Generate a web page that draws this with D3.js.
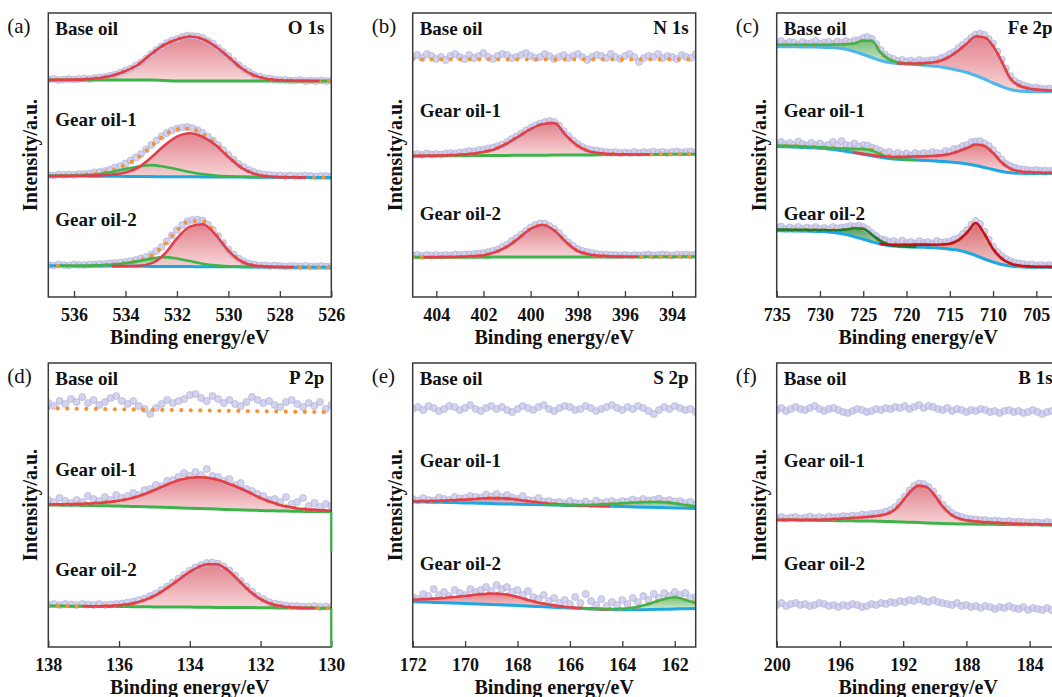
<!DOCTYPE html>
<html>
<head>
<meta charset="utf-8">
<script src="https://cdn.jsdelivr.net/npm/d3@7"></script>
<style>
  body { margin: 0; background: #fff; }
  svg { display: block; }
</style>
</head>
<body>
<svg id="chart" width="1052" height="697"></svg>
<script>
// ---------------- XPS spectra (intensity in a.u., offset per sample) ----------------
// Fit components are sampled on a regular energy grid (start, step); raw scans on a finer grid.

// (a) O 1s : 537 -> 526 eV, fit step 0.5, scan step 0.2
const o1sTicks = [536, 534, 532, 530, 528, 526];
const o1sBaseBg = [217,217,217,217,217,217,217,217,217,216.5,216,216,216,216,216,216,216,216,216,216,216,216,216];
const o1sBaseRed = [0,0.2,0.4,0.9,2,4.5,9,15.5,26,35.5,41.5,44.5,42,34.5,24,13,5.5,2,0.8,0.3,0.1,0,0];
const o1sBaseScan = [217.5,218,217,217.5,218,217.5,218,218.5,218,219,219.5,220,221.5,222.5,224.5,226.5,228.5,231.5,234.5,238.5,243,247,250.5,254,256.5,258,260,261.5,261,260.5,259,256,253.5,249,245,241,236,232,228,225,222,220.5,219,218.5,217.5,217,217,216.5,216.5,217,216,216.5,216,216.5,216,216.5];
const o1sGear1Bg = [121,121,121,120.9,120.8,120.7,120.6,120.5,120.4,120.3,120.3,120.2,120.1,120,120,119.9,119.8,119.7,119.6,119.6,119.5,119.5,119.5];
const o1sGear1Green = [0,0.2,0.5,1.2,2.2,4.5,7.5,10,11.5,10,7.5,4.8,2.8,1.5,0.7,0.3,0.1,0,0,0,0,0,0];
const o1sGear1Red = [0,0.1,0.2,0.4,0.8,1.8,4,9,19,31,40,43.5,40,32,20,9.5,3.5,1,0.3,0.1,0,0,0];
const o1sGear1Scan = [122,121.5,122.5,122,122.5,122,123,123,123.5,124.5,125,126,127.5,129.5,131,133.5,136.5,139.5,143,147.5,152,156.5,160.5,164,166.5,168.5,169.5,170,169,167,164,160.5,156.5,152,147,142,137.5,133,130,127,125,123.5,122.5,122,121.5,121.5,121,121.5,121,121,121.5,121,120.5,121,121,120.5];
const o1sGear2Bg = [31.3,31.2,31.1,31,31,30.9,30.8,30.7,30.6,30.5,30.5,30.4,30.3,30.2,30.2,30.1,30,30,29.9,29.8,29.8,29.7,29.7];
const o1sGear2Green = [0,0,0.1,0.3,0.8,1.5,3,5.2,7.8,9.4,8,5.5,3,1.4,0.5,0.2,0,0,0,0,0,0,0];
const o1sGear2Red = [0,0,0,0,0,0,0.2,0.5,3,12,28,40,42.5,32,16,5.5,1.5,0.4,0.1,0,0,0,0];
const o1sGear2Scan = [32,31.5,32.5,32,31.5,32.5,32,32,32.5,32.5,33,33,33.5,34,34.5,35,36,37,38.5,40,42.5,46,50,55.5,61.5,67,72,75.5,77,77.5,76.5,72.5,67,61,54,47.5,42.5,38.5,35.5,33.5,32.5,31.5,31.5,31,31.5,31,30.5,31,31,30.5,31,30.5,30.5,31,30.5,30.5];

// (b) N 1s : 405 -> 393 eV, fit step 0.5, scan step 0.2
const n1sTicks = [404, 402, 400, 398, 396, 394];
const n1sBaseBg = [237.7,237.7,237.7,237.7,237.7,237.7,237.7,237.7,237.7,237.7,237.7,237.7,237.7,237.7,237.7,237.7,237.7,237.7,237.7,237.7,237.7,237.7,237.7,237.7,237.7];
const n1sBaseScan = [240,242,239,243,241,238,240,237,241,243,240,238,242,239,241,244,240,238,241,243,242,239,240,242,244,241,239,240,243,241,238,240,242,239,241,243,240,237,240,242,241,239,243,240,238,241,243,240,235,239,241,240,243,239,241,240,238,242,240,239,243];
const n1sGear1Bg = [141,141.1,141.2,141.2,141.3,141.4,141.5,141.5,141.6,141.7,141.8,141.8,141.9,142,142.1,142.1,142.2,142.3,142.4,142.4,142.5,142.6,142.7,142.7,142.8];
const n1sGear1Red = [0,0.1,0.2,0.5,1,1.8,3.5,6.5,12,19,26,31,32,19.5,9,3.5,1.5,0.6,0.2,0.1,0,0,0,0,0];
const n1sGear1Scan = [142.5,143,142,143.5,142.5,143,142.5,143.5,144,143.5,144.5,145,146,145.5,147,147.5,148.5,149.5,151,152.5,155,158,160.5,163.5,166.5,169,171.5,173.5,175,176,175,171.5,166,161,156.5,153,150,148,147,146.5,145.5,145,144.5,145,144,144.5,144,145,144,145,144.5,145.5,144.5,145,144,145,145.5,144.5,145,145.5,144.5];
const n1sGear2Bg = [39.7,39.7,39.7,39.8,39.8,39.8,39.8,39.9,39.9,39.9,40,40,40,40,40,40.1,40.1,40.1,40.2,40.2,40.2,40.2,40.3,40.3,40.3];
const n1sGear2Red = [0,0,0.1,0.2,0.4,1,2,5,10.5,19,28,32,26.5,15,6,2.5,1,0.4,0.1,0,0,0,0,0,0];
const n1sGear2Scan = [41.5,42,41,42,41.5,42,41.5,42,41.5,42.5,42,42.5,42.5,43,43.5,44,45,46,47.5,50,52.5,56,59,62.5,66,69.5,72,73.5,73.5,71,68,64,59,54.5,51,48,46,45,44,43,42.5,42.5,42,42,41.5,42,41.5,42,41.5,42,42.5,41.5,42,42.5,42,41.5,42.5,42,42.5,42,42.5];

// (c) Fe 2p : 735 -> 702.3 eV, fit step 1, scan step 0.5
const fe2pTicks = [735, 730, 725, 720, 715, 710, 705];
const fe2pBaseBg = [250.3,250.3,250.2,250.1,250,249.8,249.5,249,247.8,245.5,242.5,239.5,236.5,234.5,233.5,233,232.5,232,231,230,228.5,226.5,224.5,221.5,218,214,210.5,207.5,206,205.5,205.3,205.2,205.2];
const fe2pBaseGreen = [2,2,2,2.1,2.2,2.4,2.8,3.5,5,8,14,16.5,8,3,1.2,0.5,0.2,0,0,0,0,0,0,0,0,0,0,0,0,0,0,0,0];
const fe2pBaseRed = [0,0,0,0,0,0,0,0,0,0,0,0,0,0,0,0.5,1,2,3.5,6.5,12,20,29,39,41.5,37,25,11,5.5,3.2,2.2,1.6,1.2];
const fe2pBaseScan = [254,256,253,255,254.5,252.5,255,253.5,254,256,253,254.5,255,253,255.5,254,256,254.5,256.5,257,259,260,258,253,247,242.5,239.5,238,236,237,235,236.5,235,237,235.5,236.5,237,237,239,240,243,245,249,252,255.5,259.5,262.5,263.5,262,258,253.5,245.5,237.5,228.5,221,216,213.5,211.5,210.5,209,209.5,208.5,208,208.5,207.5];
const fe2pGear1Bg = [150.5,150.3,150,149.6,149.2,148.7,148,147,145.8,144.3,142.8,141.3,139.8,138.6,137.8,137.3,137,136.6,136.2,135.6,135,134.2,133,131.5,129.5,127.5,125.5,124.3,123.8,123.6,123.5,123.5,123.5];
const fe2pGear1Green = [1,1,1,1,1,1.1,1.3,1.8,2.6,3.8,5.2,5.2,2.8,1.1,0.4,0.1,0,0,0,0,0,0,0,0,0,0,0,0,0,0,0,0,0];
const fe2pGear1Red = [0,0,0,0,0,0,0,0,0,0,0.3,0.6,1,1.5,2.2,3,3.5,4,4.8,6,8,11.5,16,21,21.5,16.5,9,4,2,1.3,1,0.8,0.7];
const fe2pGear1Scan = [153,155,152.5,154,152,155.5,153,151.5,154,152,153.5,151,152.5,155,151.5,156,152,151,153.5,150.5,152,151.5,149.5,148,146,144,145,142.5,144,142,143.5,141.5,144,142.5,144,143,145,144,143.5,146,145.5,148,148.5,151,152,155,155.5,156,153.5,151,147,142,137.5,133,131,129.5,128,127.5,127,126.5,127,126,126.5,126,127];
const fe2pGear2Bg = [66.3,66.2,66.1,66,65.8,65.5,65,64,62.5,60.3,57.8,55.3,53,51.3,50.6,50.3,50.1,49.8,49.3,48.7,47.8,46.8,44.5,41.5,38,35,32.5,31,30.2,29.8,29.7,29.7,29.7];
const fe2pGear2Green = [1.2,1.2,1.2,1.2,1.2,1.4,1.8,2.8,5,8.5,10.5,7,3,1,0.4,0.1,0,0,0,0,0,0,0,0,0,0,0,0,0,0,0,0,0];
const fe2pGear2Red = [0,0,0,0,0,0,0,0,0,0,0,0,0,1,1.5,2,2.3,2.6,3,3.8,5.5,10,20,32.5,25,13,6,2.5,1.3,0.8,0.6,0.5,0.4];
const fe2pGear2Scan = [69,70.5,68,69.5,68.5,70,68,69.5,68.5,70,68,69,67.5,70,68.5,69.5,70,71,70.5,71.5,70,67.5,64,61,58,57,55,56,54,56.5,54,55,53.5,56,54,55,53.5,56,54.5,55,55.5,57.5,59,63,67,72.5,76,73,65.5,57.5,50.5,45,41,38,36,34.5,33.5,33,32,32.5,31.5,32,31.5,32,31.5];

// (d) P 2p : 138 -> 130 eV, fit step 0.25, scan step 0.16
const p2pTicks = [138, 136, 134, 132, 130];
const p2pBaseBg = [238.7,238.6,238.5,238.3,238.2,238.1,238,237.8,237.7,237.6,237.5,237.3,237.2,237.1,237,236.8,236.7,236.6,236.5,236.3,236.2,236.1,236,235.8,235.7,235.6,235.5,235.3,235.2,235.1,235,234.8,234.7];
const p2pBaseScan = [244,241,246,243,248,245,250,244,247,242,245,249,251,246,243,246,241,238,233,239,243,247,244,246,248,252,253,249,246,251,248,244,247,243,241,245,250,247,244,246,242,240,245,247,243,240,244,241,245,238,242];
const p2pGear1Bg = [142,141.9,141.8,141.7,141.6,141.4,141.3,141.1,140.9,140.7,140.5,140.3,140,139.7,139.4,139.1,138.8,138.5,138.2,137.9,137.6,137.3,137,136.8,136.5,136.3,136.1,135.9,135.8,135.6,135.5,135.4,135.3];
const p2pGear1Red = [0.5,0.7,0.9,1.2,1.7,2.3,3,4,5.5,7.3,9.8,13,17,21,25,28.3,30.5,31.3,31,29.5,27,24,20.5,16.5,12.5,9.2,6.5,4.5,3,2.2,1.6,1.2,0.9];
const p2pGear1Scan = [147,145,149,146,144,147,145,151,148,146,150,147,152,149,151,154,152,157,158,162,161,166,167,170,174,171,175,172,178,171,170,166,168,162,164,158,156,153,151,147,148,145,150,143,145,149,141,144,140,143,141];
const p2pGear1EdgeDrop = 95;
const p2pGear2Bg = [41,40.9,40.9,40.8,40.7,40.6,40.6,40.5,40.4,40.4,40.3,40.2,40.1,40.1,40,39.9,39.9,39.8,39.7,39.6,39.6,39.5,39.4,39.4,39.3,39.2,39.1,39.1,39,38.9,38.9,38.8,38.7];
const p2pGear2Red = [0,0,0,0,0,0.1,0.25,0.6,1.3,2.4,4.3,7.2,11.1,16.3,22.5,29,35.2,40.1,43,43.1,39,31.6,22.9,14.8,8.6,4.5,2.1,0.9,0.35,0.1,0,0,0];
const p2pGear2Scan = [42.5,43,42,43,42.5,42,43,42.5,42,43,42,42.5,43,43.5,44.5,45.5,47,48.5,51,53.5,57,60.5,64.5,68.5,72.5,76.5,79.5,82,84,84.5,83.5,80.5,76.5,71.5,66,60.5,55.5,51,48,45,43.5,42.5,41.5,41,41,40.5,40.5,41,40,40.5,40];
const p2pGear2EdgeDrop = 0;

// (e) S 2p : 172 -> 161.2 eV, fit step 0.5, scan step 0.2
const s2pTicks = [172, 170, 168, 166, 164, 162];
const s2pBaseScan = [238,240,237,241,239,236,238,241,240,237,239,242,238,236,239,241,238,240,237,235,238,241,239,237,240,242,238,236,239,241,240,237,238,241,239,236,238,240,242,239,237,240,238,241,239,236,233,237,240,238,241,239,237,238,235,232];
const s2pGear1Bg = [145.3,145,144.7,144.4,144.1,143.8,143.4,143.1,142.8,142.5,142.2,141.9,141.6,141.3,141,140.7,140.4,140,139.7,139.4,139.1,138.8,138.5];
const s2pGear1Red = [0.5,0.9,1.5,2.3,3.3,4.5,5.5,5.5,4.5,3,1.8,0.9,0.4,0.2,0.1,0,0,0,0,0,0,0,0];
const s2pGear1Green = [0,0,0,0,0,0,0,0,0,0,0,0.1,0.3,0.7,1.3,2.2,3.3,4.5,5.3,5.5,4.5,2.8,1.5];
const s2pGear1Scan = [148,146.5,149,147,146.5,149.5,148,147,150,148.5,149,151,150,149.5,152.5,150.5,153,150,152,149.5,148,151,147,146.5,149,145.5,146,144.5,145,143.5,146,144,143.5,145.5,143,146.5,144,145,146,144.5,146,145.5,147.5,146,148,146.5,147,148.5,146,147,145.5,146,144,145,142.5,143];
const s2pGear2Bg = [45.3,44.9,44.4,44,43.5,43,42.5,42,41.4,40.8,40.2,39.6,39,38.4,37.9,37.5,37.2,37.2,37.4,37.7,38,38.3,38.6];
const s2pGear2Red = [2,3,4.2,5.7,7.5,9.5,11,10.8,8.5,5.5,3,1.5,0.7,0.3,0.1,0,0,0,0,0,0,0,0];
const s2pGear2Green = [0,0,0,0,0,0,0,0,0,0,0,0,0,0,0.2,0.5,1,2.5,5.5,9.5,11.7,8,4];
const s2pGear2Scan = [50,48,53,51,58,52,55,51,57,54,52,58,55,57,60,56,62,58,60,55,57,52,56,50,48,52,46,49,44,47,43,50,44,53,46,42,48,41,45,42,47,43,49,45,51,47,53,49,54,51,55,52,54,49,50,47];

// (f) B 1s : 200 -> 182.1 eV, fit step 0.5, scan step 0.3
const b1sTicks = [200, 196, 192, 188, 184];
const b1sBaseScan = [237,239,236,238,240,238,237,239,241,238,236,238,239,237,235,234,236,238,237,235,236,238,237,239,238,240,239,241,238,240,242,239,241,240,238,237,239,236,238,237,235,237,236,238,237,235,236,234,236,237,235,236,234,235,237,235,233,235,236,234,235];
const b1sGear1Bg = [127,126.9,126.9,126.8,126.7,126.6,126.5,126.4,126.3,126.2,126.1,126,125.9,125.7,125.5,125.3,125,124.7,124.4,124.1,123.8,123.5,123.3,123.1,123,122.9,122.8,122.7,122.6,122.5,122.4,122.3,122.3,122.2,122.1,122.1,122];
const b1sGear1Red = [0.2,0.25,0.3,0.4,0.5,0.7,1,1.4,1.9,2.5,3.1,3.8,4.6,5.8,7.8,12.5,21.5,31.5,37,35.5,27.5,17,9.5,5.5,3.8,2.8,2.2,1.8,1.5,1.2,1,0.8,0.6,0.5,0.4,0.3,0.3];
const b1sGear1Scan = [129,130,128.5,129.5,130,128.5,129.5,130.5,129,130,129,130.5,129.5,130,131,130.5,131.5,131,132.5,132,133,133.5,134,135.5,137,140,145,150.5,156.5,161,163.5,163,160,155.5,149,142.5,138,134,131.5,130,128.5,128,127.5,127,127,126,126.5,126,125.5,126,125,125.5,125,124.5,125,124.5,124,125,124,124.5,124];
const b1sGear2Scan = [42,44,41,43,44,42,43,41,42,44,43,41,42,40,42,41,43,42,40,41,43,42,44,43,45,44,46,45,47,46,48,46,45,47,45,44,43,42,44,41,42,40,41,39,41,40,38,40,39,41,39,38,40,37,39,38,37,39,37,38,37];

const sampleNames = ['Base oil', 'Gear oil-1', 'Gear oil-2'];

// ---------------- layout & styles ----------------
const W = 1052, H = 697;
const PW = 283, PH = 284;
const COL_X = [48.3, 412.7, 776.7];
const ROW_Y = [13, 363];
const FONT = '"Liberation Serif","Times New Roman",Times,serif';

const LINE = {
  red: '#e13e4e', green: '#3db34a', blue: '#1fa6e3', lightblue: '#4fb7ee',
  dred: '#c3121b', dgreen: '#1f7a2b', orange: '#f39536', frame: '#3a3a3a'
};
const FILL = { red: 'url(#g-red)', green: 'url(#g-green)', dred: 'url(#g-dred)', dgreen: 'url(#g-dgreen)' };

const panels = [
  { tag: '(a)', title: 'O 1s', col: 0, row: 0, domain: [537, 526], ticks: o1sTicks,
    start: 537, fitStep: 0.5, scanStep: 0.2, labelY: [22, 113, 213],
    series: [
      { bg: o1sBaseBg, bgColor: 'green', peaks: [{ h: o1sBaseRed, style: 'red' }], scan: o1sBaseScan },
      { bg: o1sGear1Bg, bgColor: 'blue', peaks: [{ h: o1sGear1Green, style: 'green' }, { h: o1sGear1Red, style: 'red' }], scan: o1sGear1Scan },
      { bg: o1sGear2Bg, bgColor: 'blue', peaks: [{ h: o1sGear2Green, style: 'green' }, { h: o1sGear2Red, style: 'red' }], scan: o1sGear2Scan }
    ] },
  { tag: '(b)', title: 'N 1s', col: 1, row: 0, domain: [405, 393], ticks: n1sTicks,
    start: 405, fitStep: 0.5, scanStep: 0.2, labelY: [22, 103.7, 207],
    series: [
      { bg: n1sBaseBg, bgColor: null, peaks: [], scan: n1sBaseScan },
      { bg: n1sGear1Bg, bgColor: 'green', peaks: [{ h: n1sGear1Red, style: 'red' }], scan: n1sGear1Scan },
      { bg: n1sGear2Bg, bgColor: 'green', peaks: [{ h: n1sGear2Red, style: 'red' }], scan: n1sGear2Scan }
    ] },
  { tag: '(c)', title: 'Fe 2p', col: 2, row: 0, domain: [735, 702.3], ticks: fe2pTicks,
    start: 735, fitStep: 1, scanStep: 0.5, labelY: [22, 103.7, 207],
    series: [
      { bg: fe2pBaseBg, bgColor: 'lightblue', peaks: [{ h: fe2pBaseGreen, style: 'green' }, { h: fe2pBaseRed, style: 'red' }], scan: fe2pBaseScan },
      { bg: fe2pGear1Bg, bgColor: 'blue', peaks: [{ h: fe2pGear1Green, style: 'green' }, { h: fe2pGear1Red, style: 'red' }], scan: fe2pGear1Scan },
      { bg: fe2pGear2Bg, bgColor: 'blue', peaks: [{ h: fe2pGear2Green, style: 'dgreen' }, { h: fe2pGear2Red, style: 'dred' }], scan: fe2pGear2Scan }
    ] },
  { tag: '(d)', title: 'P 2p', col: 0, row: 1, domain: [138, 130], ticks: p2pTicks,
    start: 138, fitStep: 0.25, scanStep: 0.16, labelY: [22, 113, 213],
    series: [
      { bg: p2pBaseBg, bgColor: null, peaks: [], scan: p2pBaseScan },
      { bg: p2pGear1Bg, bgColor: 'green', peaks: [{ h: p2pGear1Red, style: 'red' }], scan: p2pGear1Scan, edgeDrop: p2pGear1EdgeDrop },
      { bg: p2pGear2Bg, bgColor: 'green', peaks: [{ h: p2pGear2Red, style: 'red' }], scan: p2pGear2Scan, edgeDrop: p2pGear2EdgeDrop }
    ] },
  { tag: '(e)', title: 'S 2p', col: 1, row: 1, domain: [172, 161.2], ticks: s2pTicks,
    start: 172, fitStep: 0.5, scanStep: 0.2, labelY: [22, 103.7, 207],
    series: [
      { bg: null, scan: s2pBaseScan },
      { bg: s2pGear1Bg, bgColor: 'blue', peaks: [{ h: s2pGear1Red, style: 'red' }, { h: s2pGear1Green, style: 'green' }], scan: s2pGear1Scan },
      { bg: s2pGear2Bg, bgColor: 'blue', peaks: [{ h: s2pGear2Red, style: 'red' }, { h: s2pGear2Green, style: 'green' }], scan: s2pGear2Scan }
    ] },
  { tag: '(f)', title: 'B 1s', col: 2, row: 1, domain: [200, 182.1], ticks: b1sTicks,
    start: 200, fitStep: 0.5, scanStep: 0.3, labelY: [22, 103.7, 207],
    series: [
      { bg: null, scan: b1sBaseScan },
      { bg: b1sGear1Bg, bgColor: 'green', peaks: [{ h: b1sGear1Red, style: 'red' }], scan: b1sGear1Scan },
      { bg: null, scan: b1sGear2Scan }
    ] }
];

// ---------------- drawing ----------------
const svg = d3.select('#chart').attr('viewBox', `0 0 ${W} ${H}`);
svg.append('rect').attr('width', W).attr('height', H).attr('fill', '#fff');
const defs = svg.append('defs');

function addGradient(id, c0, c1) {
  const lg = defs.append('linearGradient').attr('id', id)
    .attr('x1', 0).attr('y1', 0).attr('x2', 0).attr('y2', 1);
  lg.append('stop').attr('offset', '0%').attr('stop-color', c0);
  lg.append('stop').attr('offset', '100%').attr('stop-color', c1);
}
addGradient('g-red', '#df7480', '#f7d2d5');
addGradient('g-green', '#66bb6b', '#cfe9cf');
addGradient('g-dred', '#d0585c', '#f3c6c6');
addGradient('g-dgreen', '#3c9443', '#bcdcbc');

// index range over which a component rises above its background
function activeRange(h) {
  let i0 = h.findIndex(v => v > 0);
  let i1 = h.length - 1;
  while (i1 > 0 && !(h[i1] > 0)) i1--;
  if (i0 < 0) return [0, 0];
  return [Math.max(0, i0 - 1), Math.min(h.length - 1, i1 + 1)];
}

panels.forEach((p, pi) => {
  const left = COL_X[p.col], top = ROW_Y[p.row];
  const x = d3.scaleLinear().domain(p.domain).range([left, left + PW]);
  const y = d3.scaleLinear().domain([0, PH]).range([top + PH, top]);

  const clipId = 'clip-' + pi;
  defs.append('clipPath').attr('id', clipId)
    .append('rect').attr('x', left).attr('y', top).attr('width', PW).attr('height', PH);

  const g = svg.append('g');
  const plot = g.append('g').attr('clip-path', `url(#${clipId})`);
  const layer = {};
  ['fill', 'scan', 'bg', 'env', 'peak'].forEach(k => { layer[k] = plot.append('g'); });

  const curve = d3.curveMonotoneX;

  p.series.forEach(s => {
    // raw scan points
    const scanPts = s.scan.map((v, i) => ({ E: p.start - i * p.scanStep, v }));
    layer.scan.selectAll(null).data(scanPts).enter().append('circle')
      .attr('cx', d => x(d.E)).attr('cy', d => y(d.v)).attr('r', 3.5)
      .attr('fill', '#c8c8ea').attr('fill-opacity', 0.8)
      .attr('stroke', '#a6a6d6').attr('stroke-width', 0.7).attr('stroke-opacity', 0.8);

    if (!s.bg) return;
    const peaks = s.peaks || [];
    const pts = s.bg.map((b, i) => ({
      E: p.start - i * p.fitStep,
      b,
      h: peaks.map(pk => pk.h[i]),
      env: b + d3.sum(peaks, pk => pk.h[i])
    }));

    // component fills
    peaks.forEach((pk, k) => {
      const [i0, i1] = activeRange(pk.h);
      const area = d3.area().curve(curve)
        .x(d => x(d.E)).y0(d => y(d.b)).y1(d => y(d.b + d.h[k]));
      layer.fill.append('path').datum(pts.slice(i0, i1 + 1)).attr('d', area)
        .attr('fill', FILL[pk.style]).attr('fill-opacity', 0.9);
    });

    // background
    if (s.bgColor) {
      layer.bg.append('path').datum(pts)
        .attr('d', d3.line().curve(curve).x(d => x(d.E)).y(d => y(d.b)))
        .attr('fill', 'none').attr('stroke', LINE[s.bgColor]).attr('stroke-width', 3);
    }

    // fitted envelope (dotted)
    layer.env.append('path').datum(pts)
      .attr('d', d3.line().curve(curve).x(d => x(d.E)).y(d => y(d.env)))
      .attr('fill', 'none').attr('stroke', LINE.orange).attr('stroke-width', 4.2)
      .attr('stroke-linecap', 'round').attr('stroke-dasharray', '0 9.5');

    // component lines
    peaks.forEach((pk, k) => {
      const [i0, i1] = activeRange(pk.h);
      layer.peak.append('path').datum(pts.slice(i0, i1 + 1))
        .attr('d', d3.line().curve(curve).x(d => x(d.E)).y(d => y(d.b + d.h[k])))
        .attr('fill', 'none').attr('stroke', LINE[pk.style]).attr('stroke-width', 2.6)
        .attr('stroke-linejoin', 'round').attr('stroke-linecap', 'round');
    });
  });

  // axis (inward ticks)
  const axis = d3.axisBottom(x).tickValues(p.ticks).tickSize(-6).tickPadding(11).tickFormat(d3.format('d'));
  const ag = g.append('g').attr('transform', `translate(0,${top + PH})`).call(axis);
  ag.attr('font-family', FONT).attr('font-size', 18).attr('font-weight', 'bold');
  ag.select('.domain').remove();
  ag.selectAll('.tick line').attr('stroke', LINE.frame).attr('stroke-width', 1.3);
  ag.selectAll('.tick text').attr('fill', '#111');

  // frame
  g.append('rect').attr('x', left).attr('y', top).attr('width', PW).attr('height', PH)
    .attr('fill', 'none').attr('stroke', LINE.frame).attr('stroke-width', 1.5);

  // background segments that run down the right edge
  p.series.forEach(s => {
    if (s.edgeDrop === undefined) return;
    const n = s.bg.length - 1;
    const eEnd = p.start - n * p.fitStep;
    g.append('path')
      .datum([{ E: eEnd, v: s.bg[n] }, { E: eEnd, v: s.edgeDrop }])
      .attr('d', d3.line().x(d => x(d.E)).y(d => y(d.v)))
      .attr('stroke', LINE[s.bgColor]).attr('stroke-width', 2.2).attr('fill', 'none');
  });

  // texts
  const txt = g.append('g').attr('font-family', FONT).attr('fill', '#111');
  txt.append('text').attr('x', left - 41).attr('y', top + 20)
    .attr('font-size', 21).text(p.tag);
  txt.append('text').attr('x', left + PW - 7).attr('y', top + 21)
    .attr('text-anchor', 'end').attr('font-size', 19).attr('font-weight', 'bold').text(p.title);
  sampleNames.forEach((name, k) => {
    txt.append('text').attr('x', left + 7).attr('y', top + p.labelY[k])
      .attr('font-size', 19).attr('font-weight', 'bold').text(name);
  });
  txt.append('text')
    .attr('transform', `translate(${left - 11},${top + PH / 2}) rotate(-90)`)
    .attr('text-anchor', 'middle').attr('font-size', 20).attr('font-weight', 'bold')
    .text('Intensity/a.u.');
  txt.append('text').attr('x', left + PW / 2).attr('y', top + PH + 47)
    .attr('text-anchor', 'middle').attr('font-size', 20).attr('font-weight', 'bold')
    .text('Binding energy/eV');
});
</script>
</body>
</html>
